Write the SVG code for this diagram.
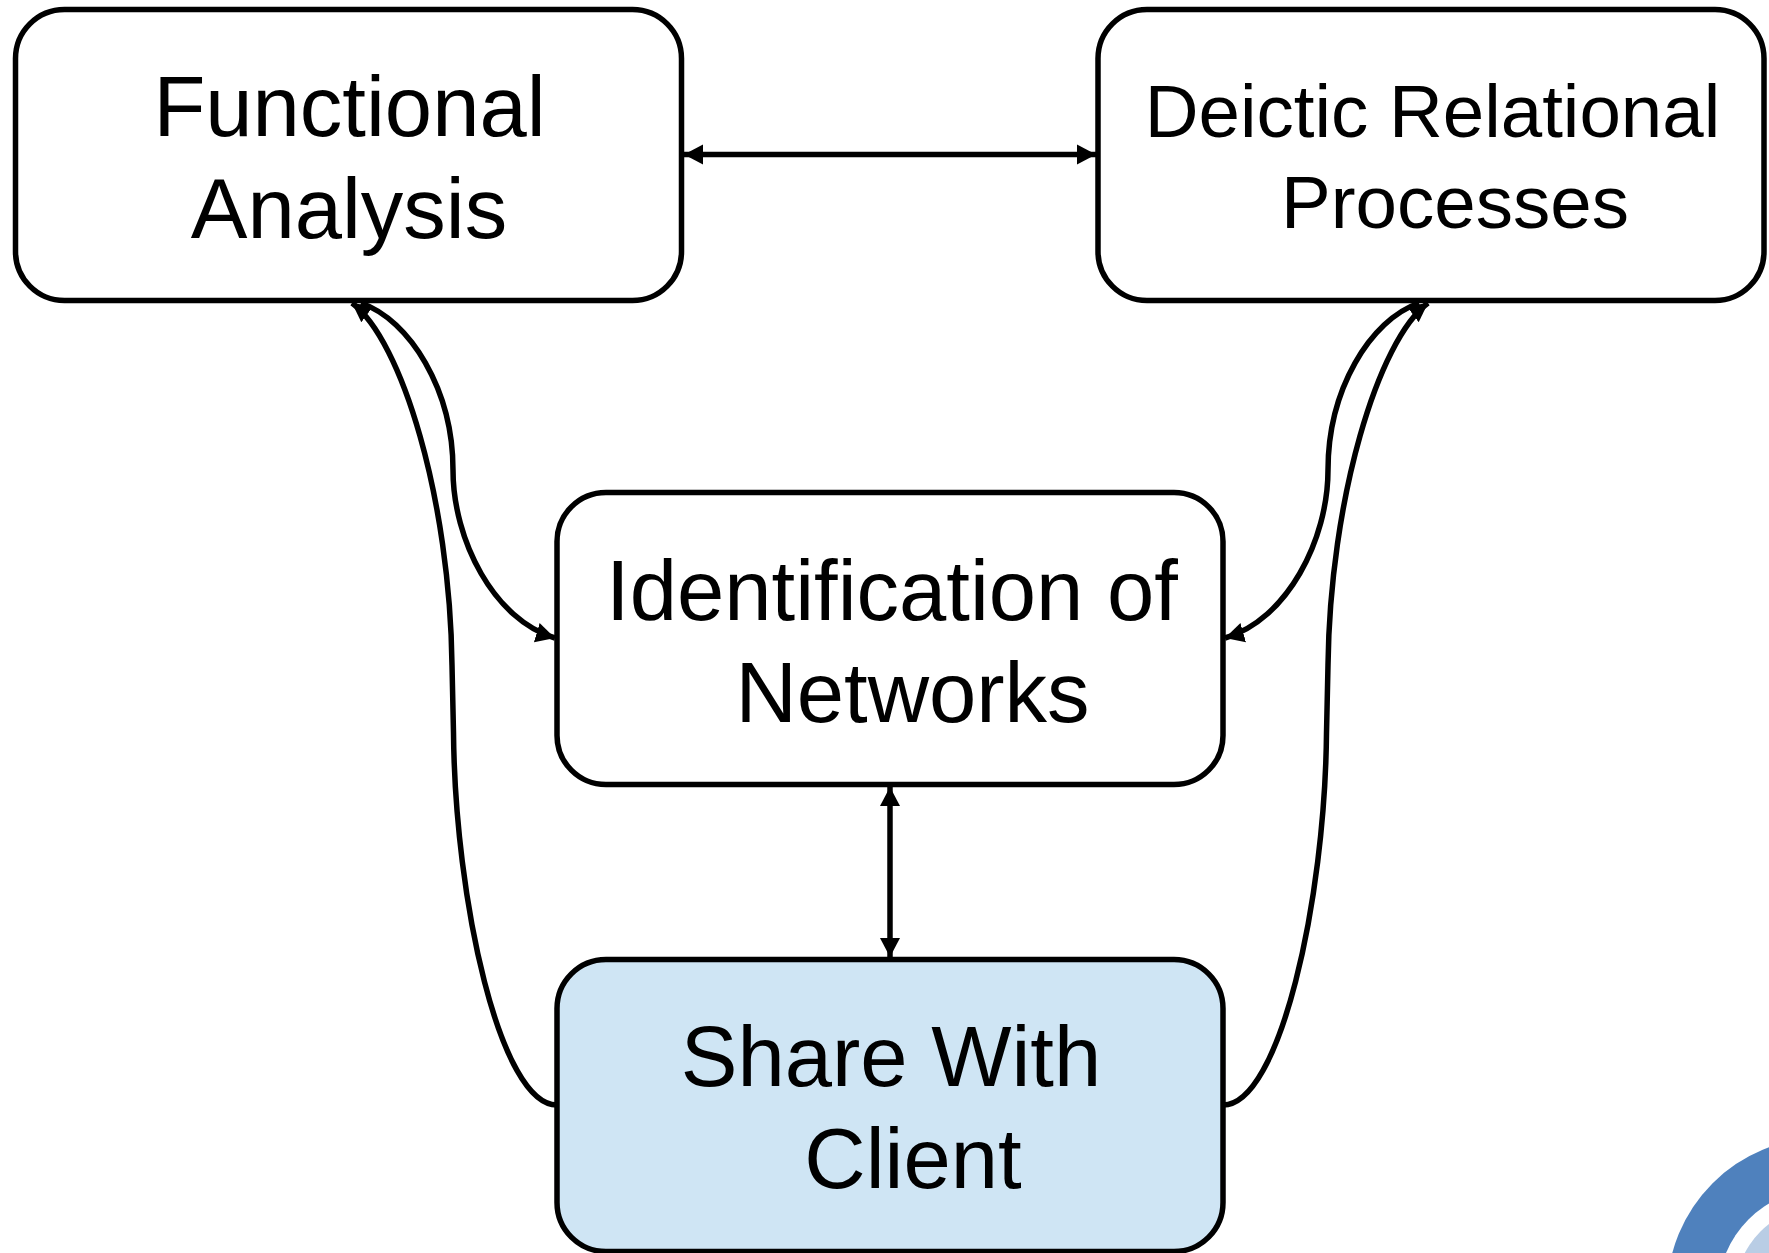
<svg xmlns="http://www.w3.org/2000/svg" width="1769" height="1253" viewBox="0 0 1769 1253">
<style>
.box{fill:#fff;stroke:#000;stroke-width:5.5}
.share{fill:#cfe5f4}
.c{fill:none;stroke:#000;stroke-width:5.5}
text{font-family:"Liberation Sans",Arial,sans-serif;font-size:85px;fill:#000;text-anchor:middle}
.s{font-size:74.5px}
</style>
<defs>
<marker id="a" markerUnits="userSpaceOnUse" markerWidth="24" markerHeight="24" refX="19" refY="12" orient="auto-start-reverse"><path d="M0,2L19,12L0,22z" fill="#000"/></marker>
</defs>
<rect width="1769" height="1253" fill="#fff"/>
<g id="decoration">
<circle cx="1822" cy="1293" r="155" fill="#4f81bd"/>
<circle cx="1822" cy="1293" r="104" fill="#fff"/>
<circle cx="1822" cy="1293" r="87" fill="#b9cde5"/>
</g>
<g id="functional"><rect class="box" x="15.5" y="9.500" width="666" height="291" rx="49"/><text x="349.500" y="136">Functional</text><text x="349" y="238">Analysis</text></g>
<g id="deictic"><rect class="box" x="1098" y="9.500" width="666" height="291" rx="49"/><text class="s" x="1432.500" y="137">Deictic Relational</text><text class="s" x="1455" y="228">Processes</text></g>
<g id="identification"><rect class="box" x="557" y="492.500" width="666" height="292" rx="49"/><text x="892" y="620">Identification of</text><text x="912.500" y="722">Networks</text></g>
<g id="share"><rect class="box share" x="557" y="959.500" width="666" height="292" rx="49"/><text x="891" y="1086">Share With</text><text x="913" y="1188">Client</text></g>
<g id="connectors">
<path class="c" d="M684,154.500H1096" marker-start="url(#a)" marker-end="url(#a)"/>
<path class="c" d="M890,787V957" marker-start="url(#a)" marker-end="url(#a)"/>
<path class="c" d="M361,303C410,320 453,390 453,470C453,540 494,620 555,638" marker-end="url(#a)"/>
<path class="c" d="M557,1105C500,1105 455,900 453.500,733L452,665C450,500 402,340 352,303" marker-end="url(#a)"/>
<path class="c" d="M1419,303C1370,320 1328,390 1328,470C1328,540 1287,620 1225,638" marker-end="url(#a)"/>
<path class="c" d="M1223,1105C1280,1105 1325,900 1326.500,733L1328,665C1330,500 1378,340 1428,303" marker-end="url(#a)"/>
</g>
</svg>
